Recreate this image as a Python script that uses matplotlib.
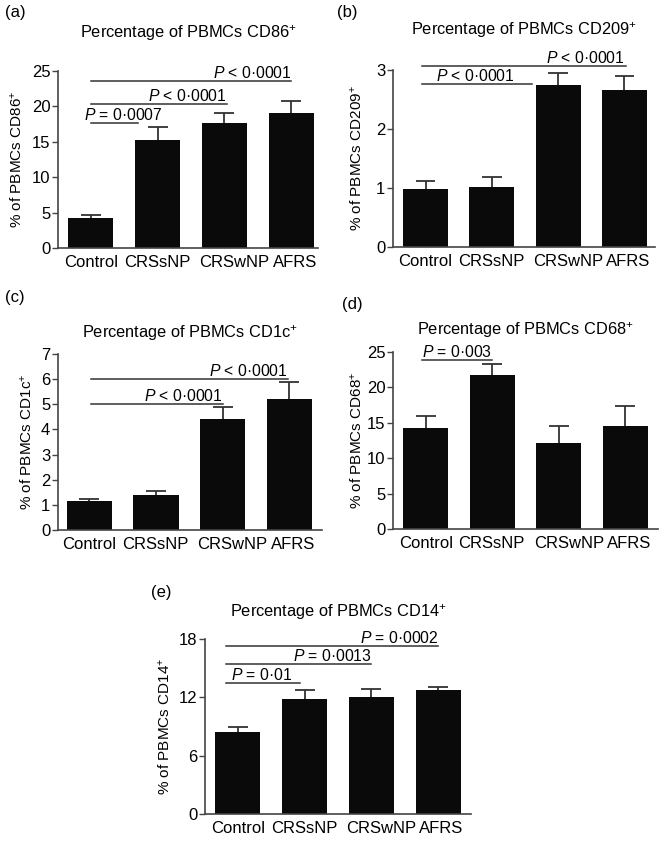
import matplotlib
matplotlib.use("Agg")
import matplotlib.pyplot as plt

plt.rcParams['font.family'] = ['Liberation Sans', 'DejaVu Sans']
plt.rcParams['mathtext.fontset'] = 'custom'
plt.rcParams['mathtext.rm'] = 'Liberation Sans'
plt.rcParams['mathtext.it'] = 'Liberation Sans:italic'

categories = ["Control", "CRSsNP", "CRSwNP", "AFRS"]

cd86_mean = [4.2, 15.3, 17.6, 19.0]
cd86_err = [0.4, 1.8, 1.5, 1.8]
cd209_mean = [0.99, 1.02, 2.74, 2.66]
cd209_err = [0.13, 0.16, 0.21, 0.23]
cd1c_mean = [1.17, 1.40, 4.40, 5.20]
cd1c_err = [0.07, 0.15, 0.48, 0.68]
cd68_mean = [14.2, 21.8, 12.2, 14.6]
cd68_err = [1.7, 1.5, 2.4, 2.8]
cd14_mean = [8.4, 11.8, 12.0, 12.8]
cd14_err = [0.5, 1.0, 0.9, 0.3]

W, H = 659, 844
fig = plt.figure(figsize=(W / 100, H / 100), dpi=100)

LABEL_POS = [0.0, 0.99, 2.15, 3.05]   # x-label offsets so the words read as one line
CAP = 0.15
DARK = '#333333'

def px_axes(l, t, r, b):
    return fig.add_axes([l / W, 1 - b / H, (r - l) / W, (b - t) / H])

def panel(box, means, errs, yticks, ylim, xlim, title, ylabel,
          label, label_xy, title_y, ylabel_x, annots):
    ax = px_axes(*box)
    x = list(range(len(categories)))
    ax.bar(x, means, width=0.68, color='#0a0a0a', zorder=2)
    tops = [m + e for m, e in zip(means, errs)]
    ax.vlines(x, means, tops, color=DARK, lw=1.3, zorder=1)
    ax.hlines(tops, [v - CAP for v in x], [v + CAP for v in x], color=DARK, lw=1.3, zorder=1)
    ax.set_xlim(*xlim)
    ax.set_ylim(*ylim)
    ax.set_yticks(yticks)
    ax.set_yticklabels([str(v) for v in yticks], fontsize=12)
    ax.set_xticks(LABEL_POS)
    ax.set_xticklabels(categories, fontsize=12)
    ax.tick_params(axis='x', length=0, pad=5)
    ax.tick_params(axis='y', length=4, width=1, color='#444444', pad=1.5)
    for s in ['top', 'right']:
        ax.spines[s].set_visible(False)
    for s in ['left', 'bottom']:
        ax.spines[s].set_color('#444444')
        ax.spines[s].set_linewidth(1.2)
    ax.set_ylabel(ylabel, fontsize=11)
    ax.yaxis.set_label_coords(ylabel_x, 0.5)
    cx = (box[0] + box[2]) / 2
    fig.text(cx / W, 1 - title_y / H, title, ha='center', va='center', fontsize=11.8)
    fig.text(label_xy[0] / W, 1 - label_xy[1] / H, label, ha='left', va='center', fontsize=12)
    for (x0, x1, y, txt, tx, ha) in annots:
        ax.plot([x0, x1], [y, y], color=DARK, lw=1.1, clip_on=False, zorder=3)
        ax.text(tx, y, txt, ha=ha, va='bottom', fontsize=11.3, clip_on=False)
    return ax

panel((58, 71, 318, 248), cd86_mean, cd86_err, [0, 5, 10, 15, 20, 25], (0, 25),
      (-0.49, 3.4), 'Percentage of PBMCs CD86$^{+}$', '% of PBMCs CD86$^{+}$',
      '(a)', (5, 13), 33, -0.13,
      [(0, 3.0, 23.6, r'$P$ < 0·0001', 3.0, 'right'),
       (0, 2.04, 20.4, r'$P$ < 0·0001', 2.04, 'right'),
       (0, 0.7, 17.7, r'$P$ = 0·0007', 0.48, 'center')])

panel((393, 70, 655, 247), cd209_mean, cd209_err, [0, 1, 2, 3], (0, 3),
      (-0.49, 3.46), 'Percentage of PBMCs CD209$^{+}$', '% of PBMCs CD209$^{+}$',
      '(b)', (337, 13), 30, -0.107,
      [(-0.05, 3.03, 3.07, r'$P$ < 0·0001', 3.01, 'right'),
       (-0.05, 1.61, 2.77, r'$P$ < 0·0001', 1.34, 'right')])

panel((58, 354, 322, 530), cd1c_mean, cd1c_err, list(range(8)), (0, 7),
      (-0.47, 3.49), 'Percentage of PBMCs CD1c$^{+}$', '% of PBMCs CD1c$^{+}$',
      '(c)', (5, 298), 333, -0.087,
      [(0.03, 2.98, 6.0, r'$P$ < 0·0001', 2.98, 'right'),
       (0.03, 2.0, 5.0, r'$P$ < 0·0001', 2.0, 'right')])

panel((393, 352, 658, 529), cd68_mean, cd68_err, [0, 5, 10, 15, 20, 25], (0, 25),
      (-0.49, 3.49), 'Percentage of PBMCs CD68$^{+}$', '% of PBMCs CD68$^{+}$',
      '(d)', (342, 304), 330, -0.107,
      [(-0.06, 0.99, 23.9, r'$P$ = 0·003', 0.47, 'center')])

panel((205, 639, 471, 814), cd14_mean, cd14_err, [0, 6, 12, 18], (0, 18),
      (-0.49, 3.49), 'Percentage of PBMCs CD14$^{+}$', '% of PBMCs CD14$^{+}$',
      '(e)', (151, 592), 612, -0.123,
      [(-0.18, 3.0, 17.3, r'$P$ = 0·0002', 3.0, 'right'),
       (-0.18, 2.0, 15.4, r'$P$ = 0·0013', 2.0, 'right'),
       (-0.18, 0.93, 13.45, r'$P$ = 0·01', 0.82, 'right')])

fig.savefig('out.png', dpi=100)
